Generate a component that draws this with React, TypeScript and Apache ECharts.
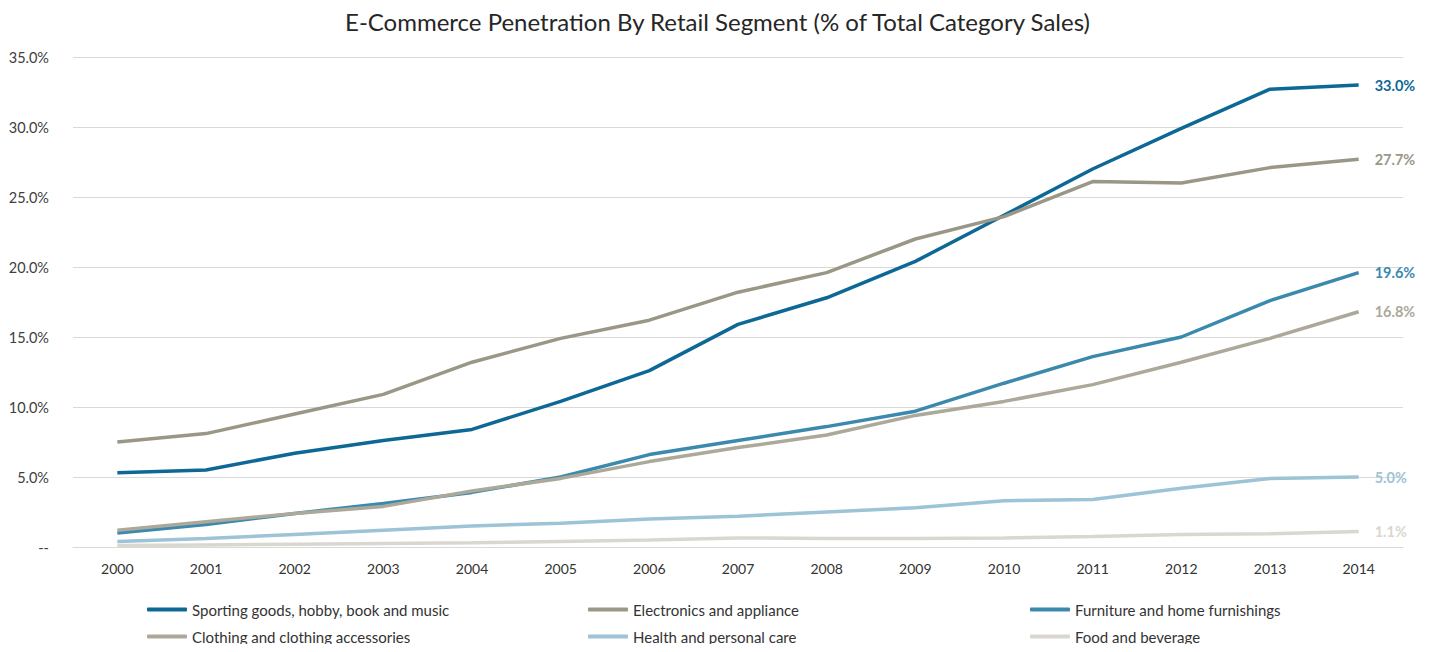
import React, { useEffect, useRef } from "react";
import * as echarts from "echarts";

const years = ["2000","2001","2002","2003","2004","2005","2006","2007","2008","2009","2010","2011","2012","2013","2014"];
const sporting = [5.3, 5.5, 6.7, 7.6, 8.4, 10.4, 12.6, 15.9, 17.8, 20.4, 23.7, 27.0, 29.9, 32.7, 33.0];
const electronics = [7.5, 8.1, 9.5, 10.9, 13.2, 14.9, 16.2, 18.2, 19.6, 22.0, 23.6, 26.1, 26.0, 27.1, 27.7];
const furniture = [1.0, 1.6, 2.4, 3.1, 3.9, 5.0, 6.6, 7.6, 8.6, 9.7, 11.7, 13.6, 15.0, 17.6, 19.6];
const clothing = [1.2, 1.8, 2.4, 2.9, 4.0, 4.9, 6.1, 7.1, 8.0, 9.4, 10.4, 11.6, 13.2, 14.9, 16.8];
const health = [0.4, 0.6, 0.9, 1.2, 1.5, 1.7, 2.0, 2.2, 2.5, 2.8, 3.3, 3.4, 4.2, 4.9, 5.0];
const food = [0.1, 0.15, 0.2, 0.25, 0.3, 0.4, 0.5, 0.65, 0.6, 0.6, 0.65, 0.75, 0.9, 0.95, 1.1];
const yTicks = [0, 5, 10, 15, 20, 25, 30, 35];

const seriesDefs = [
  { name: "Sporting goods, hobby, book and music", data: sporting, color: "#0e6895" },
  { name: "Electronics and appliance", data: electronics, color: "#9a9787" },
  { name: "Furniture and home furnishings", data: furniture, color: "#3b89ad" },
  { name: "Clothing and clothing accessories", data: clothing, color: "#aca89a" },
  { name: "Health and personal care", data: health, color: "#9dc3d6" },
  { name: "Food and beverage", data: food, color: "#d9d7d0" },
];

const FONT = "Lato, 'Open Sans', sans-serif";

export default function App() {
  const ref = useRef<HTMLDivElement>(null);
  useEffect(() => {
    if (!ref.current) return;
    const chart = echarts.init(ref.current, undefined, { renderer: "svg" });
    const colLeft = [147, 588, 1030];
    const rowTop = [602, 629];
    const legends = seriesDefs.map((s, i) => ({
      left: colLeft[i % 3],
      top: rowTop[Math.floor(i / 3)],
      itemWidth: 40,
      itemHeight: 4,
      itemGap: 0,
      icon: "roundRect",
      padding: 0,
      data: [s.name],
      textStyle: { fontFamily: FONT, fontSize: 15, color: "#333333" },
    }));
    chart.setOption({
      animation: false,
      backgroundColor: "#ffffff",
      textStyle: { fontFamily: FONT },
      title: {
        text: "E-Commerce Penetration By Retail Segment (% of Total Category Sales)",
        left: "center",
        top: 4,
        textStyle: { fontFamily: FONT, fontSize: 24, fontWeight: "normal", color: "#262626" },
      },
      legend: legends,
      grid: { left: 73, right: 32, top: 57, bottom: 105, containLabel: false },
      xAxis: {
        type: "category",
        data: years,
        boundaryGap: true,
        axisLine: { show: true, lineStyle: { color: "#d9d9d9", width: 1 } },
        axisTick: { show: false },
        axisLabel: { fontFamily: FONT, fontSize: 14, color: "#333333", margin: 14 },
      },
      yAxis: {
        type: "value",
        min: yTicks[0],
        max: yTicks[yTicks.length - 1],
        interval: 5,
        axisLine: { show: false },
        axisTick: { show: false },
        splitLine: { lineStyle: { color: "#d9d9d9", width: 1 } },
        axisLabel: {
          fontFamily: FONT,
          fontSize: 14.5,
          color: "#404040",
          margin: 24,
          formatter: (v: number) => (v === 0 ? "--" : v.toFixed(1) + "%"),
        },
      },
      series: seriesDefs.map((s) => ({
        name: s.name,
        type: "line",
        data: s.data,
        showSymbol: false,
        symbol: "none",
        color: s.color,
        lineStyle: { color: s.color, width: 3.5 },
        itemStyle: { color: s.color },
        endLabel: {
          show: true,
          distance: 16,
          fontFamily: FONT,
          fontSize: 14.5,
          fontWeight: "bold",
          color: s.color,
          formatter: (p: any) => Number(p.value).toFixed(1) + "%",
        },
      })),
    });
    return () => chart.dispose();
  }, []);
  return <div ref={ref} style={{ width: 1435, height: 652, margin: -8 }} />;
}
